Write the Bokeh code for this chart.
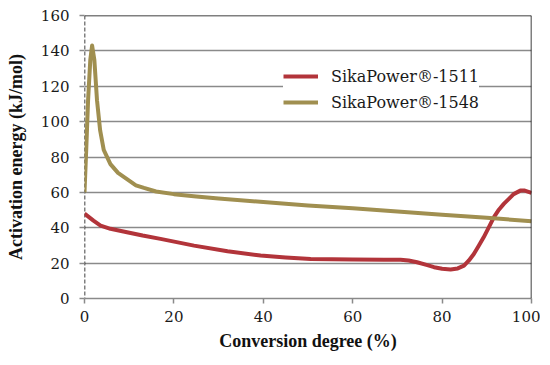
from bokeh.plotting import figure
from bokeh.models import Span, Legend, LegendItem, FixedTicker
from bokeh.embed import file_html
from bokeh.resources import INLINE

# Data
x_1511 = [0, 1, 2, 3.6, 5.8, 9.5, 13, 17, 24.5, 32, 39.4, 45, 50.6, 60, 67, 70.7, 72.5, 74.4, 76.5, 78.2, 80, 81.9, 83.5, 84.9, 86, 87.1, 88.2, 89.3, 90.5, 91.6, 92.7, 93.8, 95, 96, 97.5, 98.5, 100]
y_1511 = [48, 46, 44, 41.2, 39.4, 37.5, 35.6, 33.7, 29.9, 26.7, 24.3, 23.2, 22.4, 22, 21.9, 21.9, 21.5, 20.5, 19, 17.7, 16.8, 16.4, 17, 18.6, 21.5, 25.2, 29.8, 34.6, 40.5, 46, 50.2, 53.5, 56.5, 59, 61, 61, 59.7]

x_1548 = [0, 0.4, 0.8, 1.3, 1.7, 2.2, 2.8, 3.5, 4.3, 5.8, 7.5, 9.5, 11.5, 13.3, 16, 20, 25, 30, 40, 50, 60, 70, 80, 90, 100]
y_1548 = [60, 85, 112, 135, 143, 135, 112, 95, 84, 76, 71, 67.5, 64, 62.5, 60.5, 59, 57.7, 56.6, 54.5, 52.6, 51, 49.2, 47.3, 45.6, 43.7]

x_ticks = [0, 20, 40, 60, 80, 100]
y_ticks = [0, 20, 40, 60, 80, 100, 120, 140, 160]

labels = ["SikaPower®-1511", "SikaPower®-1548"]
colors = ["#B2343A", "#A08F50"]

FONT = "DejaVu Serif"
FONT_B = "Liberation Serif"

p = figure(width=540, height=357, x_range=(0, 100), y_range=(0, 160),
           output_backend="svg", toolbar_location=None,
           min_border_left=84, min_border_right=9, min_border_top=15, min_border_bottom=59)
p.outline_line_color = None
p.background_fill_color = "white"

r1 = p.line(x_1511, y_1511, line_color=colors[0], line_width=4, line_join="round")
r2 = p.line(x_1548, y_1548, line_color=colors[1], line_width=4, line_join="round")

# grid
p.xgrid.grid_line_color = None
p.ygrid.ticker = FixedTicker(ticks=y_ticks)
p.ygrid.grid_line_color = "#8a8a8a"
p.ygrid.grid_line_width = 1.5

# axes
p.xaxis.ticker = FixedTicker(ticks=x_ticks)
p.yaxis.ticker = FixedTicker(ticks=y_ticks)
for ax in (p.xaxis[0], p.yaxis[0]):
    ax.minor_tick_line_color = None
    ax.major_tick_line_color = "#8a8a8a"
    ax.major_tick_line_width = 1.5
    ax.major_tick_in = 0
    ax.major_tick_out = 5
    ax.major_label_text_font = FONT
    ax.major_label_text_font_size = "15px"
    ax.major_label_text_font_style = "normal"
    ax.major_label_text_color = "#1a1a1a"
    ax.axis_label_text_font = FONT_B
    ax.axis_label_text_font_style = "bold"
    ax.axis_label_text_font_size = "18px"
    ax.axis_label_text_color = "#111111"
p.xaxis.axis_line_color = "#8a8a8a"
p.xaxis.axis_line_width = 1.5
p.yaxis.axis_line_color = None
p.xaxis.major_label_standoff = 7
p.yaxis.major_label_standoff = 10
p.xaxis.axis_label = "Conversion degree (%)"
p.yaxis.axis_label = "Activation energy (kJ/mol)"
p.xaxis.axis_label_standoff = 6
p.yaxis.axis_label_standoff = 12

# frame lines
p.add_layout(Span(location=160, dimension="width", line_color="black", line_width=1.5))
p.add_layout(Span(location=100, dimension="height", line_color="black", line_width=1.5))
p.add_layout(Span(location=0, dimension="height", line_color="black", line_width=1.5,
                  line_dash="4 2", level="underlay"))

legend = Legend(items=[LegendItem(label=labels[0], renderers=[r1]),
                       LegendItem(label=labels[1], renderers=[r2])],
                location=(199, 186), orientation="vertical",
                glyph_width=35, glyph_height=20, label_standoff=13,
                label_text_font=FONT, label_text_font_size="16px",
                label_text_font_style="normal",
                label_text_color="#1a1a1a", label_height=20, spacing=6,
                padding=22, border_line_color=None, background_fill_color="white",
                background_fill_alpha=1.0)
p.add_layout(legend, "center")

open("out.html", "w").write(file_html(p, INLINE))
